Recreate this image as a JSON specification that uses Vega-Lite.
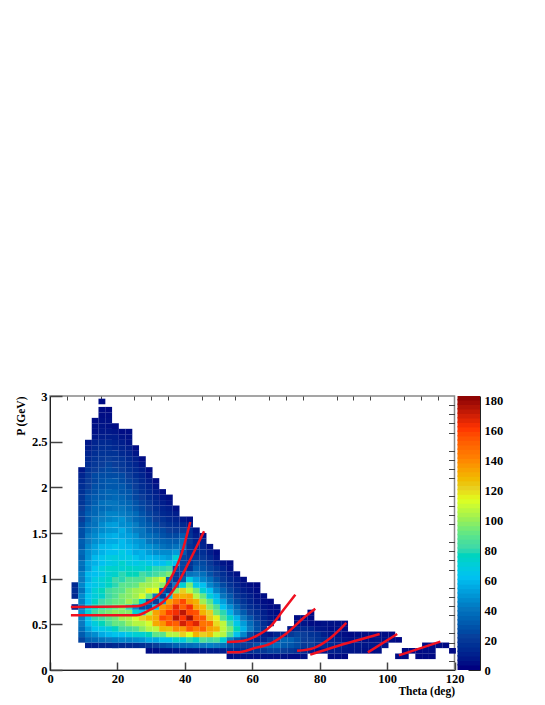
{"$schema":"https://vega.github.io/schema/vega-lite/v6.json","background":"white","padding":{"left":14,"top":389,"right":5,"bottom":5},"spacing":2.5,"bounds":"flush","config":{"view":{"stroke":null},"axis":{"labelFont":"Liberation Serif","titleFont":"Liberation Serif","labelFontWeight":"bold","titleFontWeight":"bold","labelFontSize":12.5,"titleFontSize":11.5,"labelColor":"#000","titleColor":"#000","domainColor":"#222","tickColor":"#444","grid":false}},
"datasets":{"cells":[
{"t":7.4,"p":0.69,"n":10},{"t":7.4,"p":0.81,"n":12},{"t":7.4,"p":0.87,"n":14},{"t":7.4,"p":0.93,"n":12},
{"t":9.4,"p":0.33,"n":22},{"t":9.4,"p":0.39,"n":30},{"t":9.4,"p":0.45,"n":36},{"t":9.4,"p":0.51,"n":40},{"t":9.4,"p":0.57,"n":42},{"t":9.4,"p":0.63,"n":46},{"t":9.4,"p":0.69,"n":40},{"t":9.4,"p":0.75,"n":42},{"t":9.4,"p":0.81,"n":45},{"t":9.4,"p":0.87,"n":38},{"t":9.4,"p":0.93,"n":44},{"t":9.4,"p":0.99,"n":40},{"t":9.4,"p":1.05,"n":42},{"t":9.4,"p":1.11,"n":36},{"t":9.4,"p":1.17,"n":38},{"t":9.4,"p":1.23,"n":32},{"t":9.4,"p":1.29,"n":35},{"t":9.4,"p":1.35,"n":30},{"t":9.4,"p":1.41,"n":31},{"t":9.4,"p":1.47,"n":26},{"t":9.4,"p":1.53,"n":26},{"t":9.4,"p":1.59,"n":24},{"t":9.4,"p":1.65,"n":20},{"t":9.4,"p":1.71,"n":22},{"t":9.4,"p":1.77,"n":20},{"t":9.4,"p":1.83,"n":17},{"t":9.4,"p":1.89,"n":17},{"t":9.4,"p":1.95,"n":15},{"t":9.4,"p":2.01,"n":14},{"t":9.4,"p":2.07,"n":12},{"t":9.4,"p":2.13,"n":10},{"t":9.4,"p":2.19,"n":6},
{"t":11.4,"p":0.27,"n":8},{"t":11.4,"p":0.33,"n":32},{"t":11.4,"p":0.39,"n":42},{"t":11.4,"p":0.45,"n":50},{"t":11.4,"p":0.51,"n":58},{"t":11.4,"p":0.57,"n":62},{"t":11.4,"p":0.63,"n":70},{"t":11.4,"p":0.69,"n":66},{"t":11.4,"p":0.75,"n":60},{"t":11.4,"p":0.81,"n":62},{"t":11.4,"p":0.87,"n":57},{"t":11.4,"p":0.93,"n":60},{"t":11.4,"p":0.99,"n":55},{"t":11.4,"p":1.05,"n":58},{"t":11.4,"p":1.11,"n":50},{"t":11.4,"p":1.17,"n":52},{"t":11.4,"p":1.23,"n":47},{"t":11.4,"p":1.29,"n":46},{"t":11.4,"p":1.35,"n":44},{"t":11.4,"p":1.41,"n":40},{"t":11.4,"p":1.47,"n":41},{"t":11.4,"p":1.53,"n":36},{"t":11.4,"p":1.59,"n":35},{"t":11.4,"p":1.65,"n":30},{"t":11.4,"p":1.71,"n":31},{"t":11.4,"p":1.77,"n":28},{"t":11.4,"p":1.83,"n":25},{"t":11.4,"p":1.89,"n":26},{"t":11.4,"p":1.95,"n":23},{"t":11.4,"p":2.01,"n":20},{"t":11.4,"p":2.07,"n":20},{"t":11.4,"p":2.13,"n":18},{"t":11.4,"p":2.19,"n":16},{"t":11.4,"p":2.25,"n":14},{"t":11.4,"p":2.31,"n":12},{"t":11.4,"p":2.37,"n":10},{"t":11.4,"p":2.43,"n":8},{"t":11.4,"p":2.49,"n":6},
{"t":13.4,"p":0.27,"n":8},{"t":13.4,"p":0.33,"n":35},{"t":13.4,"p":0.39,"n":46},{"t":13.4,"p":0.45,"n":62},{"t":13.4,"p":0.51,"n":68},{"t":13.4,"p":0.57,"n":78},{"t":13.4,"p":0.63,"n":82},{"t":13.4,"p":0.69,"n":77},{"t":13.4,"p":0.75,"n":74},{"t":13.4,"p":0.81,"n":68},{"t":13.4,"p":0.87,"n":70},{"t":13.4,"p":0.93,"n":64},{"t":13.4,"p":0.99,"n":66},{"t":13.4,"p":1.05,"n":60},{"t":13.4,"p":1.11,"n":62},{"t":13.4,"p":1.17,"n":56},{"t":13.4,"p":1.23,"n":58},{"t":13.4,"p":1.29,"n":52},{"t":13.4,"p":1.35,"n":51},{"t":13.4,"p":1.41,"n":46},{"t":13.4,"p":1.47,"n":45},{"t":13.4,"p":1.53,"n":42},{"t":13.4,"p":1.59,"n":38},{"t":13.4,"p":1.65,"n":39},{"t":13.4,"p":1.71,"n":34},{"t":13.4,"p":1.77,"n":34},{"t":13.4,"p":1.83,"n":31},{"t":13.4,"p":1.89,"n":30},{"t":13.4,"p":1.95,"n":27},{"t":13.4,"p":2.01,"n":26},{"t":13.4,"p":2.07,"n":23},{"t":13.4,"p":2.13,"n":24},{"t":13.4,"p":2.19,"n":20},{"t":13.4,"p":2.25,"n":18},{"t":13.4,"p":2.31,"n":16},{"t":13.4,"p":2.37,"n":14},{"t":13.4,"p":2.43,"n":12},{"t":13.4,"p":2.49,"n":10},{"t":13.4,"p":2.55,"n":6},{"t":13.4,"p":2.61,"n":4},{"t":13.4,"p":2.67,"n":4},{"t":13.4,"p":2.73,"n":3},
{"t":15.4,"p":0.27,"n":10},{"t":15.4,"p":0.33,"n":38},{"t":15.4,"p":0.39,"n":54},{"t":15.4,"p":0.45,"n":64},{"t":15.4,"p":0.51,"n":76},{"t":15.4,"p":0.57,"n":82},{"t":15.4,"p":0.63,"n":90},{"t":15.4,"p":0.69,"n":82},{"t":15.4,"p":0.75,"n":80},{"t":15.4,"p":0.81,"n":72},{"t":15.4,"p":0.87,"n":76},{"t":15.4,"p":0.93,"n":68},{"t":15.4,"p":0.99,"n":70},{"t":15.4,"p":1.05,"n":64},{"t":15.4,"p":1.11,"n":68},{"t":15.4,"p":1.17,"n":60},{"t":15.4,"p":1.23,"n":62},{"t":15.4,"p":1.29,"n":56},{"t":15.4,"p":1.35,"n":57},{"t":15.4,"p":1.41,"n":49},{"t":15.4,"p":1.47,"n":51},{"t":15.4,"p":1.53,"n":45},{"t":15.4,"p":1.59,"n":45},{"t":15.4,"p":1.65,"n":41},{"t":15.4,"p":1.71,"n":39},{"t":15.4,"p":1.77,"n":35},{"t":15.4,"p":1.83,"n":37},{"t":15.4,"p":1.89,"n":31},{"t":15.4,"p":1.95,"n":31},{"t":15.4,"p":2.01,"n":27},{"t":15.4,"p":2.07,"n":27},{"t":15.4,"p":2.13,"n":25},{"t":15.4,"p":2.19,"n":22},{"t":15.4,"p":2.25,"n":20},{"t":15.4,"p":2.31,"n":18},{"t":15.4,"p":2.37,"n":16},{"t":15.4,"p":2.43,"n":14},{"t":15.4,"p":2.49,"n":12},{"t":15.4,"p":2.55,"n":8},{"t":15.4,"p":2.61,"n":6},{"t":15.4,"p":2.67,"n":5},{"t":15.4,"p":2.73,"n":4},{"t":15.4,"p":2.79,"n":3},{"t":15.4,"p":2.85,"n":3},{"t":15.4,"p":2.94,"n":3},
{"t":17.4,"p":0.27,"n":10},{"t":17.4,"p":0.33,"n":40},{"t":17.4,"p":0.39,"n":58},{"t":17.4,"p":0.45,"n":68},{"t":17.4,"p":0.51,"n":82},{"t":17.4,"p":0.57,"n":88},{"t":17.4,"p":0.63,"n":94},{"t":17.4,"p":0.69,"n":86},{"t":17.4,"p":0.75,"n":86},{"t":17.4,"p":0.81,"n":80},{"t":17.4,"p":0.87,"n":82},{"t":17.4,"p":0.93,"n":74},{"t":17.4,"p":0.99,"n":74},{"t":17.4,"p":1.05,"n":70},{"t":17.4,"p":1.11,"n":72},{"t":17.4,"p":1.17,"n":64},{"t":17.4,"p":1.23,"n":66},{"t":17.4,"p":1.29,"n":60},{"t":17.4,"p":1.35,"n":58},{"t":17.4,"p":1.41,"n":54},{"t":17.4,"p":1.47,"n":54},{"t":17.4,"p":1.53,"n":48},{"t":17.4,"p":1.59,"n":50},{"t":17.4,"p":1.65,"n":43},{"t":17.4,"p":1.71,"n":43},{"t":17.4,"p":1.77,"n":37},{"t":17.4,"p":1.83,"n":39},{"t":17.4,"p":1.89,"n":33},{"t":17.4,"p":1.95,"n":33},{"t":17.4,"p":2.01,"n":29},{"t":17.4,"p":2.07,"n":29},{"t":17.4,"p":2.13,"n":25},{"t":17.4,"p":2.19,"n":24},{"t":17.4,"p":2.25,"n":22},{"t":17.4,"p":2.31,"n":20},{"t":17.4,"p":2.37,"n":16},{"t":17.4,"p":2.43,"n":14},{"t":17.4,"p":2.49,"n":12},{"t":17.4,"p":2.55,"n":8},{"t":17.4,"p":2.61,"n":6},{"t":17.4,"p":2.67,"n":4},{"t":17.4,"p":2.73,"n":4},{"t":17.4,"p":2.79,"n":3},{"t":17.4,"p":2.85,"n":2},
{"t":19.4,"p":0.27,"n":12},{"t":19.4,"p":0.33,"n":42},{"t":19.4,"p":0.39,"n":62},{"t":19.4,"p":0.45,"n":74},{"t":19.4,"p":0.51,"n":90},{"t":19.4,"p":0.57,"n":92},{"t":19.4,"p":0.63,"n":98},{"t":19.4,"p":0.69,"n":90},{"t":19.4,"p":0.75,"n":90},{"t":19.4,"p":0.81,"n":86},{"t":19.4,"p":0.87,"n":86},{"t":19.4,"p":0.93,"n":78},{"t":19.4,"p":0.99,"n":80},{"t":19.4,"p":1.05,"n":72},{"t":19.4,"p":1.11,"n":72},{"t":19.4,"p":1.17,"n":66},{"t":19.4,"p":1.23,"n":68},{"t":19.4,"p":1.29,"n":60},{"t":19.4,"p":1.35,"n":62},{"t":19.4,"p":1.41,"n":54},{"t":19.4,"p":1.47,"n":56},{"t":19.4,"p":1.53,"n":49},{"t":19.4,"p":1.59,"n":51},{"t":19.4,"p":1.65,"n":45},{"t":19.4,"p":1.71,"n":43},{"t":19.4,"p":1.77,"n":39},{"t":19.4,"p":1.83,"n":39},{"t":19.4,"p":1.89,"n":35},{"t":19.4,"p":1.95,"n":33},{"t":19.4,"p":2.01,"n":29},{"t":19.4,"p":2.07,"n":29},{"t":19.4,"p":2.13,"n":25},{"t":19.4,"p":2.19,"n":22},{"t":19.4,"p":2.25,"n":20},{"t":19.4,"p":2.31,"n":18},{"t":19.4,"p":2.37,"n":16},{"t":19.4,"p":2.43,"n":12},{"t":19.4,"p":2.49,"n":10},{"t":19.4,"p":2.55,"n":8},{"t":19.4,"p":2.61,"n":5},{"t":19.4,"p":2.67,"n":3},
{"t":21.4,"p":0.27,"n":12},{"t":21.4,"p":0.33,"n":44},{"t":21.4,"p":0.39,"n":60},{"t":21.4,"p":0.45,"n":82},{"t":21.4,"p":0.51,"n":90},{"t":21.4,"p":0.57,"n":100},{"t":21.4,"p":0.63,"n":96},{"t":21.4,"p":0.69,"n":96},{"t":21.4,"p":0.75,"n":92},{"t":21.4,"p":0.81,"n":94},{"t":21.4,"p":0.87,"n":88},{"t":21.4,"p":0.93,"n":88},{"t":21.4,"p":0.99,"n":78},{"t":21.4,"p":1.05,"n":78},{"t":21.4,"p":1.11,"n":70},{"t":21.4,"p":1.17,"n":72},{"t":21.4,"p":1.23,"n":64},{"t":21.4,"p":1.29,"n":66},{"t":21.4,"p":1.35,"n":58},{"t":21.4,"p":1.41,"n":58},{"t":21.4,"p":1.47,"n":52},{"t":21.4,"p":1.53,"n":54},{"t":21.4,"p":1.59,"n":46},{"t":21.4,"p":1.65,"n":47},{"t":21.4,"p":1.71,"n":41},{"t":21.4,"p":1.77,"n":39},{"t":21.4,"p":1.83,"n":35},{"t":21.4,"p":1.89,"n":33},{"t":21.4,"p":1.95,"n":29},{"t":21.4,"p":2.01,"n":29},{"t":21.4,"p":2.07,"n":25},{"t":21.4,"p":2.13,"n":24},{"t":21.4,"p":2.19,"n":20},{"t":21.4,"p":2.25,"n":18},{"t":21.4,"p":2.31,"n":16},{"t":21.4,"p":2.37,"n":12},{"t":21.4,"p":2.43,"n":10},{"t":21.4,"p":2.49,"n":8},{"t":21.4,"p":2.55,"n":5},{"t":21.4,"p":2.61,"n":3},
{"t":23.4,"p":0.27,"n":12},{"t":23.4,"p":0.33,"n":44},{"t":23.4,"p":0.39,"n":66},{"t":23.4,"p":0.45,"n":82},{"t":23.4,"p":0.51,"n":98},{"t":23.4,"p":0.57,"n":102},{"t":23.4,"p":0.63,"n":96},{"t":23.4,"p":0.69,"n":78},{"t":23.4,"p":0.75,"n":100},{"t":23.4,"p":0.81,"n":96},{"t":23.4,"p":0.87,"n":96},{"t":23.4,"p":0.93,"n":88},{"t":23.4,"p":0.99,"n":86},{"t":23.4,"p":1.05,"n":76},{"t":23.4,"p":1.11,"n":74},{"t":23.4,"p":1.17,"n":66},{"t":23.4,"p":1.23,"n":66},{"t":23.4,"p":1.29,"n":60},{"t":23.4,"p":1.35,"n":57},{"t":23.4,"p":1.41,"n":53},{"t":23.4,"p":1.47,"n":51},{"t":23.4,"p":1.53,"n":47},{"t":23.4,"p":1.59,"n":45},{"t":23.4,"p":1.65,"n":41},{"t":23.4,"p":1.71,"n":39},{"t":23.4,"p":1.77,"n":35},{"t":23.4,"p":1.83,"n":33},{"t":23.4,"p":1.89,"n":29},{"t":23.4,"p":1.95,"n":28},{"t":23.4,"p":2.01,"n":24},{"t":23.4,"p":2.07,"n":22},{"t":23.4,"p":2.13,"n":20},{"t":23.4,"p":2.19,"n":16},{"t":23.4,"p":2.25,"n":14},{"t":23.4,"p":2.31,"n":12},{"t":23.4,"p":2.37,"n":10},{"t":23.4,"p":2.43,"n":8},{"t":23.4,"p":2.49,"n":5},{"t":23.4,"p":2.55,"n":4},{"t":23.4,"p":2.61,"n":3},
{"t":25.4,"p":0.27,"n":12},{"t":25.4,"p":0.33,"n":46},{"t":25.4,"p":0.39,"n":70},{"t":25.4,"p":0.45,"n":86},{"t":25.4,"p":0.51,"n":104},{"t":25.4,"p":0.57,"n":110},{"t":25.4,"p":0.63,"n":70},{"t":25.4,"p":0.69,"n":45},{"t":25.4,"p":0.75,"n":94},{"t":25.4,"p":0.81,"n":100},{"t":25.4,"p":0.87,"n":100},{"t":25.4,"p":0.93,"n":90},{"t":25.4,"p":0.99,"n":86},{"t":25.4,"p":1.05,"n":76},{"t":25.4,"p":1.11,"n":72},{"t":25.4,"p":1.17,"n":64},{"t":25.4,"p":1.23,"n":62},{"t":25.4,"p":1.29,"n":54},{"t":25.4,"p":1.35,"n":53},{"t":25.4,"p":1.41,"n":49},{"t":25.4,"p":1.47,"n":47},{"t":25.4,"p":1.53,"n":41},{"t":25.4,"p":1.59,"n":41},{"t":25.4,"p":1.65,"n":35},{"t":25.4,"p":1.71,"n":35},{"t":25.4,"p":1.77,"n":29},{"t":25.4,"p":1.83,"n":27},{"t":25.4,"p":1.89,"n":23},{"t":25.4,"p":1.95,"n":22},{"t":25.4,"p":2.01,"n":20},{"t":25.4,"p":2.07,"n":18},{"t":25.4,"p":2.13,"n":14},{"t":25.4,"p":2.19,"n":12},{"t":25.4,"p":2.25,"n":10},{"t":25.4,"p":2.31,"n":8},{"t":25.4,"p":2.37,"n":5},{"t":25.4,"p":2.43,"n":3},
{"t":27.4,"p":0.27,"n":14},{"t":27.4,"p":0.33,"n":48},{"t":27.4,"p":0.39,"n":70},{"t":27.4,"p":0.45,"n":96},{"t":27.4,"p":0.51,"n":104},{"t":27.4,"p":0.57,"n":120},{"t":27.4,"p":0.63,"n":60},{"t":27.4,"p":0.69,"n":25},{"t":27.4,"p":0.75,"n":70},{"t":27.4,"p":0.81,"n":110},{"t":27.4,"p":0.87,"n":102},{"t":27.4,"p":0.93,"n":100},{"t":27.4,"p":0.99,"n":86},{"t":27.4,"p":1.05,"n":82},{"t":27.4,"p":1.11,"n":70},{"t":27.4,"p":1.17,"n":68},{"t":27.4,"p":1.23,"n":56},{"t":27.4,"p":1.29,"n":56},{"t":27.4,"p":1.35,"n":48},{"t":27.4,"p":1.41,"n":47},{"t":27.4,"p":1.47,"n":39},{"t":27.4,"p":1.53,"n":39},{"t":27.4,"p":1.59,"n":33},{"t":27.4,"p":1.65,"n":31},{"t":27.4,"p":1.71,"n":27},{"t":27.4,"p":1.77,"n":24},{"t":27.4,"p":1.83,"n":22},{"t":27.4,"p":1.89,"n":20},{"t":27.4,"p":1.95,"n":16},{"t":27.4,"p":2.01,"n":14},{"t":27.4,"p":2.07,"n":12},{"t":27.4,"p":2.13,"n":10},{"t":27.4,"p":2.19,"n":8},{"t":27.4,"p":2.25,"n":5},{"t":27.4,"p":2.31,"n":3},
{"t":29.4,"p":0.21,"n":3},{"t":29.4,"p":0.27,"n":16},{"t":29.4,"p":0.33,"n":54},{"t":29.4,"p":0.39,"n":76},{"t":29.4,"p":0.45,"n":104},{"t":29.4,"p":0.51,"n":110},{"t":29.4,"p":0.57,"n":126},{"t":29.4,"p":0.63,"n":104},{"t":29.4,"p":0.69,"n":26},{"t":29.4,"p":0.75,"n":28},{"t":29.4,"p":0.81,"n":90},{"t":29.4,"p":0.87,"n":114},{"t":29.4,"p":0.93,"n":100},{"t":29.4,"p":0.99,"n":96},{"t":29.4,"p":1.05,"n":78},{"t":29.4,"p":1.11,"n":76},{"t":29.4,"p":1.17,"n":64},{"t":29.4,"p":1.23,"n":58},{"t":29.4,"p":1.29,"n":50},{"t":29.4,"p":1.35,"n":47},{"t":29.4,"p":1.41,"n":39},{"t":29.4,"p":1.47,"n":37},{"t":29.4,"p":1.53,"n":31},{"t":29.4,"p":1.59,"n":29},{"t":29.4,"p":1.65,"n":25},{"t":29.4,"p":1.71,"n":22},{"t":29.4,"p":1.77,"n":20},{"t":29.4,"p":1.83,"n":18},{"t":29.4,"p":1.89,"n":14},{"t":29.4,"p":1.95,"n":12},{"t":29.4,"p":2.01,"n":10},{"t":29.4,"p":2.07,"n":8},{"t":29.4,"p":2.13,"n":5},{"t":29.4,"p":2.19,"n":3},
{"t":31.4,"p":0.21,"n":3},{"t":31.4,"p":0.27,"n":20},{"t":31.4,"p":0.33,"n":53},{"t":31.4,"p":0.39,"n":89},{"t":31.4,"p":0.45,"n":106},{"t":31.4,"p":0.51,"n":130},{"t":31.4,"p":0.57,"n":130},{"t":31.4,"p":0.63,"n":132},{"t":31.4,"p":0.69,"n":60},{"t":31.4,"p":0.75,"n":20},{"t":31.4,"p":0.81,"n":40},{"t":31.4,"p":0.87,"n":112},{"t":31.4,"p":0.93,"n":104},{"t":31.4,"p":0.99,"n":102},{"t":31.4,"p":1.05,"n":82},{"t":31.4,"p":1.11,"n":78},{"t":31.4,"p":1.17,"n":60},{"t":31.4,"p":1.23,"n":56},{"t":31.4,"p":1.29,"n":46},{"t":31.4,"p":1.35,"n":43},{"t":31.4,"p":1.41,"n":35},{"t":31.4,"p":1.47,"n":33},{"t":31.4,"p":1.53,"n":27},{"t":31.4,"p":1.59,"n":24},{"t":31.4,"p":1.65,"n":20},{"t":31.4,"p":1.71,"n":18},{"t":31.4,"p":1.77,"n":14},{"t":31.4,"p":1.83,"n":12},{"t":31.4,"p":1.89,"n":10},{"t":31.4,"p":1.95,"n":8},{"t":31.4,"p":2.01,"n":5},{"t":31.4,"p":2.07,"n":3},
{"t":33.4,"p":0.21,"n":4},{"t":33.4,"p":0.27,"n":25},{"t":33.4,"p":0.33,"n":62},{"t":33.4,"p":0.39,"n":88},{"t":33.4,"p":0.45,"n":126},{"t":33.4,"p":0.51,"n":136},{"t":33.4,"p":0.57,"n":156},{"t":33.4,"p":0.63,"n":140},{"t":33.4,"p":0.69,"n":134},{"t":33.4,"p":0.75,"n":50},{"t":33.4,"p":0.81,"n":18},{"t":33.4,"p":0.87,"n":28},{"t":33.4,"p":0.93,"n":96},{"t":33.4,"p":0.99,"n":110},{"t":33.4,"p":1.05,"n":88},{"t":33.4,"p":1.11,"n":78},{"t":33.4,"p":1.17,"n":60},{"t":33.4,"p":1.23,"n":53},{"t":33.4,"p":1.29,"n":45},{"t":33.4,"p":1.35,"n":38},{"t":33.4,"p":1.41,"n":33},{"t":33.4,"p":1.47,"n":27},{"t":33.4,"p":1.53,"n":24},{"t":33.4,"p":1.59,"n":20},{"t":33.4,"p":1.65,"n":16},{"t":33.4,"p":1.71,"n":12},{"t":33.4,"p":1.77,"n":10},{"t":33.4,"p":1.83,"n":8},{"t":33.4,"p":1.89,"n":5},{"t":33.4,"p":1.95,"n":3},
{"t":35.4,"p":0.21,"n":4},{"t":35.4,"p":0.27,"n":28},{"t":35.4,"p":0.33,"n":62},{"t":35.4,"p":0.39,"n":104},{"t":35.4,"p":0.45,"n":124},{"t":35.4,"p":0.51,"n":154},{"t":35.4,"p":0.57,"n":150},{"t":35.4,"p":0.63,"n":158},{"t":35.4,"p":0.69,"n":142},{"t":35.4,"p":0.75,"n":132},{"t":35.4,"p":0.81,"n":60},{"t":35.4,"p":0.87,"n":18},{"t":35.4,"p":0.93,"n":18},{"t":35.4,"p":0.99,"n":32},{"t":35.4,"p":1.05,"n":94},{"t":35.4,"p":1.11,"n":80},{"t":35.4,"p":1.17,"n":68},{"t":35.4,"p":1.23,"n":50},{"t":35.4,"p":1.29,"n":45},{"t":35.4,"p":1.35,"n":35},{"t":35.4,"p":1.41,"n":31},{"t":35.4,"p":1.47,"n":24},{"t":35.4,"p":1.53,"n":20},{"t":35.4,"p":1.59,"n":16},{"t":35.4,"p":1.65,"n":12},{"t":35.4,"p":1.71,"n":10},{"t":35.4,"p":1.77,"n":8},{"t":35.4,"p":1.83,"n":5},{"t":35.4,"p":1.89,"n":3},
{"t":37.4,"p":0.21,"n":5},{"t":37.4,"p":0.27,"n":32},{"t":37.4,"p":0.33,"n":72},{"t":37.4,"p":0.39,"n":104},{"t":37.4,"p":0.45,"n":138},{"t":37.4,"p":0.51,"n":150},{"t":37.4,"p":0.57,"n":172},{"t":37.4,"p":0.63,"n":162},{"t":37.4,"p":0.69,"n":164},{"t":37.4,"p":0.75,"n":144},{"t":37.4,"p":0.81,"n":134},{"t":37.4,"p":0.87,"n":96},{"t":37.4,"p":0.93,"n":40},{"t":37.4,"p":0.99,"n":18},{"t":37.4,"p":1.05,"n":18},{"t":37.4,"p":1.11,"n":22},{"t":37.4,"p":1.17,"n":60},{"t":37.4,"p":1.23,"n":70},{"t":37.4,"p":1.29,"n":50},{"t":37.4,"p":1.35,"n":38},{"t":37.4,"p":1.41,"n":30},{"t":37.4,"p":1.47,"n":24},{"t":37.4,"p":1.53,"n":18},{"t":37.4,"p":1.59,"n":14},{"t":37.4,"p":1.65,"n":10},{"t":37.4,"p":1.71,"n":8},{"t":37.4,"p":1.77,"n":4},
{"t":39.4,"p":0.21,"n":5},{"t":39.4,"p":0.27,"n":35},{"t":39.4,"p":0.33,"n":68},{"t":39.4,"p":0.39,"n":120},{"t":39.4,"p":0.45,"n":134},{"t":39.4,"p":0.51,"n":168},{"t":39.4,"p":0.57,"n":160},{"t":39.4,"p":0.63,"n":172},{"t":39.4,"p":0.69,"n":150},{"t":39.4,"p":0.75,"n":156},{"t":39.4,"p":0.81,"n":128},{"t":39.4,"p":0.87,"n":120},{"t":39.4,"p":0.93,"n":70},{"t":39.4,"p":0.99,"n":30},{"t":39.4,"p":1.05,"n":22},{"t":39.4,"p":1.11,"n":22},{"t":39.4,"p":1.17,"n":22},{"t":39.4,"p":1.23,"n":22},{"t":39.4,"p":1.29,"n":30},{"t":39.4,"p":1.35,"n":40},{"t":39.4,"p":1.41,"n":38},{"t":39.4,"p":1.47,"n":30},{"t":39.4,"p":1.53,"n":20},{"t":39.4,"p":1.59,"n":12},{"t":39.4,"p":1.65,"n":6},
{"t":41.4,"p":0.21,"n":5},{"t":41.4,"p":0.27,"n":36},{"t":41.4,"p":0.33,"n":78},{"t":41.4,"p":0.39,"n":112},{"t":41.4,"p":0.45,"n":152},{"t":41.4,"p":0.51,"n":158},{"t":41.4,"p":0.57,"n":176},{"t":41.4,"p":0.63,"n":156},{"t":41.4,"p":0.69,"n":162},{"t":41.4,"p":0.75,"n":134},{"t":41.4,"p":0.81,"n":132},{"t":41.4,"p":0.87,"n":106},{"t":41.4,"p":0.93,"n":94},{"t":41.4,"p":0.99,"n":66},{"t":41.4,"p":1.05,"n":38},{"t":41.4,"p":1.11,"n":16},{"t":41.4,"p":1.17,"n":16},{"t":41.4,"p":1.23,"n":18},{"t":41.4,"p":1.29,"n":16},{"t":41.4,"p":1.35,"n":16},{"t":41.4,"p":1.41,"n":18},{"t":41.4,"p":1.47,"n":16},{"t":41.4,"p":1.53,"n":14},{"t":41.4,"p":1.59,"n":8},{"t":41.4,"p":1.65,"n":3},
{"t":43.4,"p":0.21,"n":6},{"t":43.4,"p":0.27,"n":38},{"t":43.4,"p":0.33,"n":74},{"t":43.4,"p":0.39,"n":128},{"t":43.4,"p":0.45,"n":142},{"t":43.4,"p":0.51,"n":166},{"t":43.4,"p":0.57,"n":152},{"t":43.4,"p":0.63,"n":154},{"t":43.4,"p":0.69,"n":132},{"t":43.4,"p":0.75,"n":128},{"t":43.4,"p":0.81,"n":104},{"t":43.4,"p":0.87,"n":92},{"t":43.4,"p":0.93,"n":64},{"t":43.4,"p":0.99,"n":52},{"t":43.4,"p":1.05,"n":40},{"t":43.4,"p":1.11,"n":31},{"t":43.4,"p":1.17,"n":25},{"t":43.4,"p":1.23,"n":18},{"t":43.4,"p":1.29,"n":14},{"t":43.4,"p":1.35,"n":12},{"t":43.4,"p":1.41,"n":10},{"t":43.4,"p":1.47,"n":8},{"t":43.4,"p":1.53,"n":5},
{"t":45.4,"p":0.21,"n":6},{"t":45.4,"p":0.27,"n":40},{"t":45.4,"p":0.33,"n":86},{"t":45.4,"p":0.39,"n":120},{"t":45.4,"p":0.45,"n":150},{"t":45.4,"p":0.51,"n":144},{"t":45.4,"p":0.57,"n":152},{"t":45.4,"p":0.63,"n":128},{"t":45.4,"p":0.69,"n":124},{"t":45.4,"p":0.75,"n":100},{"t":45.4,"p":0.81,"n":90},{"t":45.4,"p":0.87,"n":70},{"t":45.4,"p":0.93,"n":60},{"t":45.4,"p":0.99,"n":44},{"t":45.4,"p":1.05,"n":37},{"t":45.4,"p":1.11,"n":27},{"t":45.4,"p":1.17,"n":24},{"t":45.4,"p":1.23,"n":18},{"t":45.4,"p":1.29,"n":14},{"t":45.4,"p":1.35,"n":10},{"t":45.4,"p":1.41,"n":8},{"t":45.4,"p":1.47,"n":4},
{"t":47.4,"p":0.21,"n":7},{"t":47.4,"p":0.27,"n":42},{"t":47.4,"p":0.33,"n":80},{"t":47.4,"p":0.39,"n":124},{"t":47.4,"p":0.45,"n":132},{"t":47.4,"p":0.51,"n":144},{"t":47.4,"p":0.57,"n":122},{"t":47.4,"p":0.63,"n":120},{"t":47.4,"p":0.69,"n":96},{"t":47.4,"p":0.75,"n":88},{"t":47.4,"p":0.81,"n":68},{"t":47.4,"p":0.87,"n":60},{"t":47.4,"p":0.93,"n":44},{"t":47.4,"p":0.99,"n":37},{"t":47.4,"p":1.05,"n":27},{"t":47.4,"p":1.11,"n":22},{"t":47.4,"p":1.17,"n":18},{"t":47.4,"p":1.23,"n":12},{"t":47.4,"p":1.29,"n":8},{"t":47.4,"p":1.35,"n":4},
{"t":49.4,"p":0.21,"n":7},{"t":49.4,"p":0.27,"n":40},{"t":49.4,"p":0.33,"n":84},{"t":49.4,"p":0.39,"n":108},{"t":49.4,"p":0.45,"n":128},{"t":49.4,"p":0.51,"n":118},{"t":49.4,"p":0.57,"n":114},{"t":49.4,"p":0.63,"n":92},{"t":49.4,"p":0.69,"n":84},{"t":49.4,"p":0.75,"n":64},{"t":49.4,"p":0.81,"n":57},{"t":49.4,"p":0.87,"n":43},{"t":49.4,"p":0.93,"n":35},{"t":49.4,"p":0.99,"n":26},{"t":49.4,"p":1.05,"n":20},{"t":49.4,"p":1.11,"n":16},{"t":49.4,"p":1.17,"n":10},{"t":49.4,"p":1.23,"n":5},{"t":49.4,"p":1.29,"n":3},
{"t":51.4,"p":0.21,"n":8},{"t":51.4,"p":0.27,"n":38},{"t":51.4,"p":0.33,"n":70},{"t":51.4,"p":0.39,"n":104},{"t":51.4,"p":0.45,"n":106},{"t":51.4,"p":0.51,"n":106},{"t":51.4,"p":0.57,"n":86},{"t":51.4,"p":0.63,"n":78},{"t":51.4,"p":0.69,"n":60},{"t":51.4,"p":0.75,"n":51},{"t":51.4,"p":0.81,"n":39},{"t":51.4,"p":0.87,"n":32},{"t":51.4,"p":0.93,"n":24},{"t":51.4,"p":0.99,"n":18},{"t":51.4,"p":1.05,"n":14},{"t":51.4,"p":1.11,"n":10},{"t":51.4,"p":1.17,"n":5},
{"t":53.4,"p":0.15,"n":3},{"t":53.4,"p":0.21,"n":12},{"t":53.4,"p":0.27,"n":26},{"t":53.4,"p":0.33,"n":42},{"t":53.4,"p":0.39,"n":84},{"t":53.4,"p":0.45,"n":94},{"t":53.4,"p":0.51,"n":82},{"t":53.4,"p":0.57,"n":74},{"t":53.4,"p":0.63,"n":56},{"t":53.4,"p":0.69,"n":47},{"t":53.4,"p":0.75,"n":35},{"t":53.4,"p":0.81,"n":29},{"t":53.4,"p":0.87,"n":22},{"t":53.4,"p":0.93,"n":16},{"t":53.4,"p":0.99,"n":12},{"t":53.4,"p":1.05,"n":8},{"t":53.4,"p":1.11,"n":4},{"t":53.4,"p":1.17,"n":3},
{"t":55.4,"p":0.15,"n":4},{"t":55.4,"p":0.21,"n":12},{"t":55.4,"p":0.27,"n":22},{"t":55.4,"p":0.33,"n":30},{"t":55.4,"p":0.39,"n":62},{"t":55.4,"p":0.45,"n":76},{"t":55.4,"p":0.51,"n":64},{"t":55.4,"p":0.57,"n":56},{"t":55.4,"p":0.63,"n":41},{"t":55.4,"p":0.69,"n":33},{"t":55.4,"p":0.75,"n":24},{"t":55.4,"p":0.81,"n":18},{"t":55.4,"p":0.87,"n":14},{"t":55.4,"p":0.93,"n":10},{"t":55.4,"p":0.99,"n":8},{"t":55.4,"p":1.05,"n":4},
{"t":57.4,"p":0.15,"n":4},{"t":57.4,"p":0.21,"n":14},{"t":57.4,"p":0.27,"n":20},{"t":57.4,"p":0.33,"n":20},{"t":57.4,"p":0.39,"n":44},{"t":57.4,"p":0.45,"n":56},{"t":57.4,"p":0.51,"n":50},{"t":57.4,"p":0.57,"n":40},{"t":57.4,"p":0.63,"n":30},{"t":57.4,"p":0.69,"n":22},{"t":57.4,"p":0.75,"n":16},{"t":57.4,"p":0.81,"n":12},{"t":57.4,"p":0.87,"n":8},{"t":57.4,"p":0.93,"n":5},{"t":57.4,"p":0.99,"n":3},
{"t":59.4,"p":0.15,"n":4},{"t":59.4,"p":0.21,"n":14},{"t":59.4,"p":0.27,"n":20},{"t":59.4,"p":0.33,"n":14},{"t":59.4,"p":0.39,"n":24},{"t":59.4,"p":0.45,"n":40},{"t":59.4,"p":0.51,"n":36},{"t":59.4,"p":0.57,"n":28},{"t":59.4,"p":0.63,"n":20},{"t":59.4,"p":0.69,"n":14},{"t":59.4,"p":0.75,"n":10},{"t":59.4,"p":0.81,"n":8},{"t":59.4,"p":0.87,"n":5},{"t":59.4,"p":0.93,"n":3},
{"t":61.4,"p":0.15,"n":4},{"t":61.4,"p":0.21,"n":16},{"t":61.4,"p":0.27,"n":26},{"t":61.4,"p":0.33,"n":10},{"t":61.4,"p":0.39,"n":14},{"t":61.4,"p":0.45,"n":26},{"t":61.4,"p":0.51,"n":24},{"t":61.4,"p":0.57,"n":18},{"t":61.4,"p":0.63,"n":14},{"t":61.4,"p":0.69,"n":10},{"t":61.4,"p":0.75,"n":6},{"t":61.4,"p":0.81,"n":4},{"t":61.4,"p":0.87,"n":3},{"t":61.4,"p":0.93,"n":2},
{"t":63.4,"p":0.15,"n":4},{"t":63.4,"p":0.21,"n":18},{"t":63.4,"p":0.27,"n":34},{"t":63.4,"p":0.33,"n":10},{"t":63.4,"p":0.39,"n":8},{"t":63.4,"p":0.45,"n":16},{"t":63.4,"p":0.51,"n":14},{"t":63.4,"p":0.57,"n":10},{"t":63.4,"p":0.63,"n":8},{"t":63.4,"p":0.69,"n":5},{"t":63.4,"p":0.75,"n":3},{"t":63.4,"p":0.81,"n":3},
{"t":65.4,"p":0.15,"n":4},{"t":65.4,"p":0.21,"n":22},{"t":65.4,"p":0.27,"n":34},{"t":65.4,"p":0.33,"n":18},{"t":65.4,"p":0.39,"n":5},{"t":65.4,"p":0.51,"n":8},{"t":65.4,"p":0.57,"n":6},{"t":65.4,"p":0.63,"n":4},{"t":65.4,"p":0.69,"n":3},{"t":65.4,"p":0.75,"n":2},
{"t":67.4,"p":0.15,"n":4},{"t":67.4,"p":0.21,"n":22},{"t":67.4,"p":0.27,"n":36},{"t":67.4,"p":0.33,"n":26},{"t":67.4,"p":0.39,"n":10},{"t":67.4,"p":0.57,"n":4},{"t":67.4,"p":0.63,"n":3},{"t":67.4,"p":0.69,"n":3},
{"t":69.4,"p":0.15,"n":4},{"t":69.4,"p":0.21,"n":20},{"t":69.4,"p":0.27,"n":30},{"t":69.4,"p":0.33,"n":34},{"t":69.4,"p":0.39,"n":12},
{"t":71.4,"p":0.15,"n":3},{"t":71.4,"p":0.21,"n":18},{"t":71.4,"p":0.27,"n":28},{"t":71.4,"p":0.33,"n":32},{"t":71.4,"p":0.39,"n":18},{"t":71.4,"p":0.45,"n":6},
{"t":73.4,"p":0.15,"n":3},{"t":73.4,"p":0.21,"n":16},{"t":73.4,"p":0.27,"n":24},{"t":73.4,"p":0.33,"n":26},{"t":73.4,"p":0.39,"n":22},{"t":73.4,"p":0.45,"n":10},{"t":73.4,"p":0.51,"n":4},{"t":73.4,"p":0.57,"n":3},
{"t":75.4,"p":0.15,"n":4},{"t":75.4,"p":0.21,"n":12},{"t":75.4,"p":0.27,"n":18},{"t":75.4,"p":0.33,"n":20},{"t":75.4,"p":0.39,"n":20},{"t":75.4,"p":0.45,"n":12},{"t":75.4,"p":0.51,"n":5},{"t":75.4,"p":0.57,"n":3},
{"t":77.4,"p":0.21,"n":8},{"t":77.4,"p":0.27,"n":20},{"t":77.4,"p":0.33,"n":20},{"t":77.4,"p":0.39,"n":16},{"t":77.4,"p":0.45,"n":10},{"t":77.4,"p":0.51,"n":3},{"t":77.4,"p":0.57,"n":2},{"t":77.4,"p":0.63,"n":2},
{"t":79.4,"p":0.21,"n":5},{"t":79.4,"p":0.27,"n":14},{"t":79.4,"p":0.33,"n":16},{"t":79.4,"p":0.39,"n":14},{"t":79.4,"p":0.45,"n":6},{"t":79.4,"p":0.51,"n":3},
{"t":81.4,"p":0.21,"n":6},{"t":81.4,"p":0.27,"n":14},{"t":81.4,"p":0.33,"n":14},{"t":81.4,"p":0.39,"n":8},{"t":81.4,"p":0.45,"n":5},{"t":81.4,"p":0.51,"n":4},
{"t":83.4,"p":0.15,"n":3},{"t":83.4,"p":0.21,"n":8},{"t":83.4,"p":0.27,"n":12},{"t":83.4,"p":0.33,"n":10},{"t":83.4,"p":0.39,"n":5},{"t":83.4,"p":0.45,"n":3},{"t":83.4,"p":0.51,"n":4},
{"t":85.4,"p":0.15,"n":3},{"t":85.4,"p":0.21,"n":8},{"t":85.4,"p":0.27,"n":10},{"t":85.4,"p":0.33,"n":8},{"t":85.4,"p":0.39,"n":5},{"t":85.4,"p":0.45,"n":4},{"t":85.4,"p":0.51,"n":4},
{"t":87.4,"p":0.15,"n":2},{"t":87.4,"p":0.21,"n":6},{"t":87.4,"p":0.27,"n":8},{"t":87.4,"p":0.33,"n":5},{"t":87.4,"p":0.39,"n":3},{"t":87.4,"p":0.45,"n":3},{"t":87.4,"p":0.51,"n":3},
{"t":89.4,"p":0.21,"n":5},{"t":89.4,"p":0.27,"n":6},{"t":89.4,"p":0.33,"n":4},{"t":89.4,"p":0.39,"n":2},
{"t":91.4,"p":0.21,"n":5},{"t":91.4,"p":0.27,"n":6},{"t":91.4,"p":0.33,"n":5},{"t":91.4,"p":0.39,"n":3},
{"t":93.4,"p":0.21,"n":4},{"t":93.4,"p":0.27,"n":5},{"t":93.4,"p":0.33,"n":4},{"t":93.4,"p":0.39,"n":3},
{"t":95.4,"p":0.21,"n":3},{"t":95.4,"p":0.27,"n":6},{"t":95.4,"p":0.33,"n":4},{"t":95.4,"p":0.39,"n":4},
{"t":97.4,"p":0.21,"n":4},{"t":97.4,"p":0.27,"n":6},{"t":97.4,"p":0.33,"n":5},{"t":97.4,"p":0.39,"n":3},
{"t":99.4,"p":0.27,"n":5},{"t":99.4,"p":0.33,"n":4},{"t":99.4,"p":0.39,"n":3},
{"t":101.4,"p":0.33,"n":3},{"t":101.4,"p":0.39,"n":2},
{"t":103.4,"p":0.33,"n":2},{"t":103.4,"p":0.15,"n":3},
{"t":105.4,"p":0.15,"n":3},{"t":105.4,"p":0.21,"n":2},
{"t":107.4,"p":0.21,"n":2},
{"t":109.4,"p":0.15,"n":2},{"t":109.4,"p":0.21,"n":2},
{"t":111.4,"p":0.15,"n":2},{"t":111.4,"p":0.21,"n":3},{"t":111.4,"p":0.27,"n":2},
{"t":113.4,"p":0.15,"n":2},{"t":113.4,"p":0.21,"n":3},{"t":113.4,"p":0.27,"n":3},
{"t":115.4,"p":0.27,"n":3},{"t":117.4,"p":0.27,"n":2},{"t":119.4,"p":0.21,"n":2}
],
"lines":[
{"s":"A","t":6.2,"p":0.69},{"s":"A","t":25.7,"p":0.697},{"s":"A","t":29.7,"p":0.752},{"s":"A","t":33.7,"p":0.88},{"s":"A","t":36.6,"p":1.06},{"s":"A","t":39.1,"p":1.28},{"s":"A","t":41.6,"p":1.62},
{"s":"B","t":6.2,"p":0.6},{"s":"B","t":25.7,"p":0.6},{"s":"B","t":29.7,"p":0.66},{"s":"B","t":33.7,"p":0.75},{"s":"B","t":37.6,"p":0.93},{"s":"B","t":41.6,"p":1.21},{"s":"B","t":45.7,"p":1.52},
{"s":"C","t":52.5,"p":0.307},{"s":"C","t":56.4,"p":0.314},{"s":"C","t":61.4,"p":0.376},{"s":"C","t":65.4,"p":0.478},{"s":"C","t":69.3,"p":0.66},{"s":"C","t":72.8,"p":0.825},
{"s":"D","t":52.5,"p":0.193},{"s":"D","t":55.5,"p":0.193},{"s":"D","t":60.7,"p":0.24},{"s":"D","t":65.4,"p":0.29},{"s":"D","t":70.3,"p":0.405},{"s":"D","t":75.2,"p":0.57},{"s":"D","t":78.7,"p":0.67},
{"s":"E","t":73.3,"p":0.21},{"s":"E","t":78.2,"p":0.24},{"s":"E","t":83.2,"p":0.35},{"s":"E","t":87.9,"p":0.515},
{"s":"F","t":77.2,"p":0.168},{"s":"F","t":85.1,"p":0.26},{"s":"F","t":97.8,"p":0.394},
{"s":"G","t":94.3,"p":0.193},{"s":"G","t":103,"p":0.394},
{"s":"H","t":103.5,"p":0.16},{"s":"H","t":115.8,"p":0.31}
],
"bar":[{"n":0,"m":4},{"n":3,"m":7},{"n":6,"m":10},{"n":9,"m":13},{"n":12,"m":16},{"n":15,"m":19},{"n":18,"m":22},{"n":21,"m":25},{"n":24,"m":28},{"n":27,"m":31},{"n":30,"m":34},{"n":33,"m":37},{"n":36,"m":40},{"n":39,"m":43},{"n":42,"m":46},{"n":45,"m":49},{"n":48,"m":52},{"n":51,"m":55},{"n":54,"m":58},{"n":57,"m":61},{"n":60,"m":64},{"n":63,"m":67},{"n":66,"m":70},{"n":69,"m":73},{"n":72,"m":76},{"n":75,"m":79},{"n":78,"m":82},{"n":81,"m":85},{"n":84,"m":88},{"n":87,"m":91},{"n":90,"m":94},{"n":93,"m":97},{"n":96,"m":100},{"n":99,"m":103},{"n":102,"m":106},{"n":105,"m":109},{"n":108,"m":112},{"n":111,"m":115},{"n":114,"m":118},{"n":117,"m":121},{"n":120,"m":124},{"n":123,"m":127},{"n":126,"m":130},{"n":129,"m":133},{"n":132,"m":136},{"n":135,"m":139},{"n":138,"m":142},{"n":141,"m":145},{"n":144,"m":148},{"n":147,"m":151},{"n":150,"m":154},{"n":153,"m":157},{"n":156,"m":160},{"n":159,"m":163},{"n":162,"m":166},{"n":165,"m":169},{"n":168,"m":172},{"n":171,"m":175},{"n":174,"m":178},{"n":177,"m":181},{"n":180,"m":183}]},
"hconcat":[{"width":404.5,"height":274,"view":{"stroke":"#888","strokeWidth":1.5},
"resolve":{"axis":{"x":"independent","y":"independent"}},
"layer":[
{"data":{"name":"cells"},"mark":{"type":"rect","width":6.85,"height":5.6},"encoding":{"x":{"field":"t","type":"quantitative","scale":{"domain":[0,120],"nice":false},"axis":{"values":[0,20,40,60,80,100,120],"tickSize":-8,"tickWidth":1.5,"title":"Theta (deg)","titleAnchor":"end","titlePadding":1,"labelPadding":10,"format":"d","labelFlush":false}},"y":{"field":"p","type":"quantitative","scale":{"domain":[0,3],"nice":false},"axis":{"values":[0,0.5,1,1.5,2,2.5,3],"format":"~g","tickSize":-12,"tickWidth":1.5,"title":"P (GeV)","titleAnchor":"end","titlePadding":5,"labelPadding":15}},"color":{"field":"n","type":"quantitative","legend":null,"scale":{"domain":[0,20,40,60,80,100,112,120,140,160,183],"range":["#000080","#0a3d9a","#0a78c0","#00c0f0","#40d8a8","#a0f050","#dfff20","#e8d020","#ff8000","#ff3300","#800000"]}}}},
{"data":{"name":"lines"},"mark":{"type":"line","color":"#f01020","strokeWidth":2.5,"interpolate":"monotone"},"encoding":{"x":{"field":"t","type":"quantitative","axis":{"values":[5,10,15,25,30,35,45,50,55,65,70,75,85,90,95,105,110,115],"tickSize":-4,"tickWidth":1,"labels":false,"domain":false,"title":null}},"y":{"field":"p","type":"quantitative","axis":{"values":[0.1,0.2,0.3,0.4,0.6,0.7,0.8,0.9,1.1,1.2,1.3,1.4,1.6,1.7,1.8,1.9,2.1,2.2,2.3,2.4,2.6,2.7,2.8,2.9],"tickSize":-6,"tickWidth":1,"labels":false,"domain":false,"title":null}},"detail":{"field":"s"}}}
]},
{"width":22.5,"height":274,"data":{"name":"bar"},"mark":"rect","encoding":{"y":{"field":"n","type":"quantitative","scale":{"domain":[0,183],"nice":false},"axis":{"orient":"right","values":[0,20,40,60,80,100,120,140,160,180],"tickSize":-12,"tickColor":"#222","labelPadding":16,"title":null,"domain":true,"format":"d"}},"y2":{"field":"m"},"color":{"field":"n","type":"quantitative","legend":null,"scale":{"domain":[0,20,40,60,80,100,112,120,140,160,183],"range":["#000080","#0a3d9a","#0a78c0","#00c0f0","#40d8a8","#a0f050","#dfff20","#e8d020","#ff8000","#ff3300","#800000"]}}}}
]}
